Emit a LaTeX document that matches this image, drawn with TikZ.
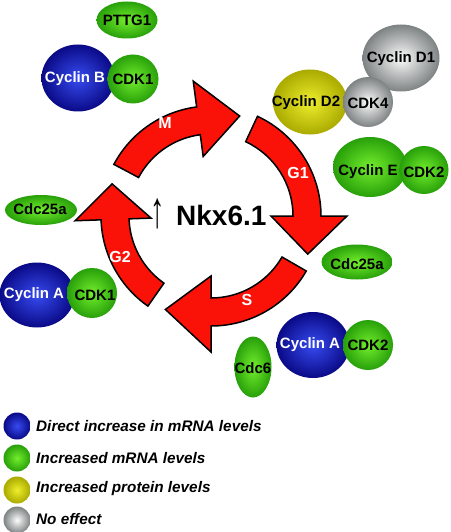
\documentclass[tikz,border=0pt]{standalone}
\usepackage{fontspec}
\setmainfont{Liberation Sans}
\usetikzlibrary{shapes.geometric}
\definecolor{arrowred}{RGB}{250,18,8}
\definecolor{bluein}{RGB}{55,75,240}
\definecolor{blueout}{RGB}{10,10,135}
\definecolor{greenin}{RGB}{115,238,45}
\definecolor{greenout}{RGB}{40,160,10}
\definecolor{yellowin}{RGB}{238,238,45}
\definecolor{yellowout}{RGB}{170,170,0}
\definecolor{grayin}{RGB}{252,252,252}
\definecolor{grayout}{RGB}{125,130,130}
\tikzset{
  phasearrow/.style={fill=arrowred, draw=black, line width=1.5pt, line join=miter},
  phaselabel/.style={text=white, font=\fontsize{16}{16}\bfseries\selectfont, inner sep=0pt},
  bubble/.style={ellipse, inner sep=0pt, shade, shading=radial},
  blueball/.style={bubble, inner color=bluein, outer color=blueout},
  greenball/.style={bubble, inner color=greenin, outer color=greenout},
  yellowball/.style={bubble, inner color=yellowin, outer color=yellowout},
  grayball/.style={bubble, inner color=grayin, outer color=grayout},
  sz/.style 2 args={minimum width=#1pt, minimum height=#2pt},
  btext/.style={font=\fontsize{15}{15}\bfseries\selectfont, inner sep=0pt, text=black},
  wtext/.style={btext, text=white},
  legtext/.style={font=\fontsize{15.3}{15.3}\bfseries\itshape\selectfont, inner sep=0pt, anchor=west}
}
\newcommand\cyclearrow[4]{%
  \draw[phasearrow] (#1:110) arc[start angle=#1, end angle=#2, radius=110]
    -- (#2:136) -- (#3:104) -- (#2:60) -- (#2:82)
    arc[start angle=#2, end angle=#1, radius=82] -- cycle;}
\begin{document}
\begin{tikzpicture}[x=1pt,y=1pt]
\useasboundingbox (0,0) rectangle (450,-532);
\fill[white] (0,0) rectangle (450,-532);

% cycle arrows
\begin{scope}[shift={(211,-216)}]
  \cyclearrow{152}{97.5}{74}{M}
  \cyclearrow{65}{0}{-21.5}{G1}
  \cyclearrow{-30}{-90}{-116}{S}
  \cyclearrow{235}{182}{162}{G2}
\end{scope}
\node[phaselabel] (lM) at (165,-123) {M};
\node[phaselabel] (lG1) at (298,-173) {G1};
\node[phaselabel] (lS) at (247,-300) {S};
\node[phaselabel] (lG2) at (120,-257) {G2};

\node[inner sep=0pt, font=\fontsize{32}{32}\selectfont] (up) at (157.5,-214) {\scalebox{0.9}[1.6]{↑}};
\node[inner sep=0pt, anchor=base west, font=\fontsize{28}{28}\bfseries\selectfont] (nkx) at (176,-225) {Nkx6.1};

% bubbles
\node[greenball, sz={61}{37}] (pttg) at (127,-20) {};
\node[btext] (pttgt) at (127,-20) {PTTG1};

\node[blueball, sz={73}{67}] (cycB) at (78,-78) {};
\node[greenball, sz={51}{49}] (cdk1a) at (133,-79) {};
\node[wtext] (cycBt) at (75,-79) {Cyclin B};
\node[btext] (cdk1at) at (133,-79) {CDK1};

\node[grayball, sz={77}{67}] (cycD1) at (401,-58) {};
\node[yellowball, sz={74}{65}] (cycD2) at (310,-102) {};
\node[grayball, sz={50}{50}] (cdk4) at (368,-102) {};
\node[btext] (cycD1t) at (401,-59) {Cyclin D1};
\node[btext] (cycD2t) at (306,-103) {Cyclin D2};
\node[btext] (cdk4t) at (368,-103) {CDK4};

\node[greenball, sz={74}{60}] (cycE) at (370,-167) {};
\node[greenball, sz={49}{48}] (cdk2a) at (424,-170) {};
\node[btext] (cycEt) at (368,-172) {Cyclin E};
\node[btext] (cdk2at) at (424,-172) {CDK2};

\node[greenball, sz={71}{35}] (c25r) at (357,-262) {};
\node[btext] (c25rt) at (357,-264) {Cdc25a};

\node[blueball, sz={73}{66}] (cycAr) at (313,-345) {};
\node[greenball, sz={50}{50}] (cdk2b) at (368,-345) {};
\node[wtext] (cycArt) at (310,-345) {Cyclin A};
\node[btext] (cdk2bt) at (368,-345) {CDK2};

\node[greenball, sz={37}{61}] (cdc6) at (253,-367) {};
\node[btext] (cdc6t) at (253,-368) {Cdc6};

\node[greenball, sz={72}{30}] (c25l) at (41,-210) {};
\node[btext] (c25lt) at (40,-209) {Cdc25a};

\node[blueball, sz={75}{65}] (cycAl) at (37,-295) {};
\node[greenball, sz={50}{50}] (cdk1b) at (92,-293) {};
\node[wtext] (cycAlt) at (34,-295) {Cyclin A};
\node[btext] (cdk1bt) at (95,-295) {CDK1};

% legend
\node[blueball, sz={27}{27}] (lg1) at (17,-426) {};
\node[greenball, sz={27}{27}] (lg2) at (17,-458) {};
\node[yellowball, sz={27}{27}] (lg3) at (17,-490) {};
\node[grayball, sz={27}{27}] (lg4) at (17,-520) {};
\node[legtext] (lt1) at (36,-426) {Direct increase in mRNA levels};
\node[legtext] (lt2) at (36,-458) {Increased mRNA levels};
\node[legtext] (lt3) at (36,-489) {Increased protein levels};
\node[legtext] (lt4) at (36,-519) {No effect};
\end{tikzpicture}
\end{document}
